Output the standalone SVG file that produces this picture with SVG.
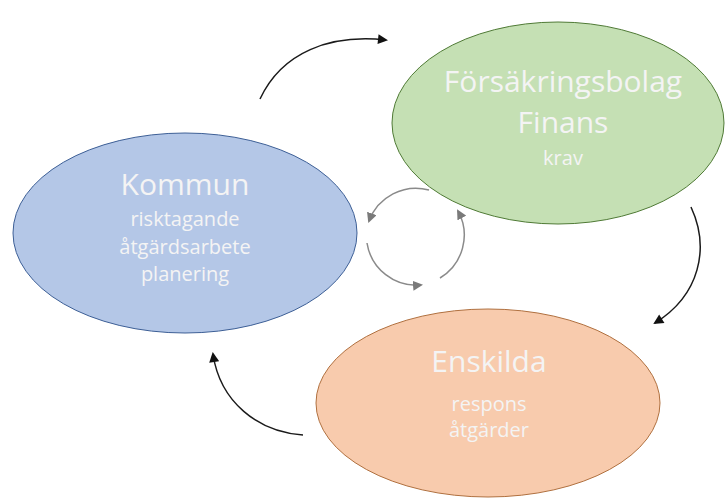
<svg xmlns="http://www.w3.org/2000/svg" width="725" height="501" viewBox="0 0 725 501">
<style>
.big{font-family:"Open Sans","Liberation Sans",sans-serif;font-size:30px;fill:#f4f4f4;text-anchor:middle}
.sm{font-family:"Open Sans","Liberation Sans",sans-serif;font-size:20px;fill:#f4f4f4;text-anchor:middle}
.blk{fill:none;stroke:#1a1a1a;stroke-width:1.5}
.gry{fill:none;stroke:#8a8a8a;stroke-width:1.5}
</style>
<defs>
<marker id="ab" viewBox="0 0 10 10" refX="8" refY="5" markerWidth="11" markerHeight="10" markerUnits="userSpaceOnUse" orient="auto">
<path d="M0,0 L10,5 L0,10 z" fill="#111"/>
</marker>
<marker id="ag" viewBox="0 0 10 10" refX="8" refY="5" markerWidth="10" markerHeight="10" markerUnits="userSpaceOnUse" orient="auto">
<path d="M0,0 L10,5 L0,10 z" fill="#7a7a7a"/>
</marker>
</defs>
<rect width="725" height="501" fill="#ffffff"/>
<g id="kommun">
<ellipse cx="185" cy="233" rx="172" ry="100" fill="#b4c7e7" stroke="#3d5f96" stroke-width="1"/>
<text class="big" x="185" y="195">Kommun</text>
<text class="sm" x="185" y="226">risktagande</text>
<text class="sm" x="185" y="254">åtgärdsarbete</text>
<text class="sm" x="185" y="281">planering</text>
</g>
<g id="forsakring">
<ellipse cx="558" cy="123" rx="166" ry="101" fill="#c5e0b4" stroke="#4f7a35" stroke-width="1"/>
<text class="big" x="563" y="92">Försäkringsbolag</text>
<text class="big" x="563" y="133">Finans</text>
<text class="sm" x="563" y="165">krav</text>
</g>
<g id="enskilda">
<ellipse cx="488" cy="403" rx="172" ry="94" fill="#f8cbad" stroke="#b0703f" stroke-width="1"/>
<text class="big" x="489" y="372">Enskilda</text>
<text class="sm" x="489" y="411">respons</text>
<text class="sm" x="489" y="437">åtgärder</text>
</g>
<g id="connectors">
<path class="blk" d="M260,99 C282,52 330,34 386,40" marker-end="url(#ab)"/>
<path class="blk" d="M691,207 C710,248 700,295 655,323" marker-end="url(#ab)"/>
<path class="blk" d="M303,435 C258,432 220,402 213,354" marker-end="url(#ab)"/>
<path class="gry" d="M429,190 A50,50 0 0 0 369,221" marker-end="url(#ag)"/>
<path class="gry" d="M367,243 A50,50 0 0 0 421,285" marker-end="url(#ag)"/>
<path class="gry" d="M440,278 A50,50 0 0 0 458,211" marker-end="url(#ag)"/>
</g>
</svg>
